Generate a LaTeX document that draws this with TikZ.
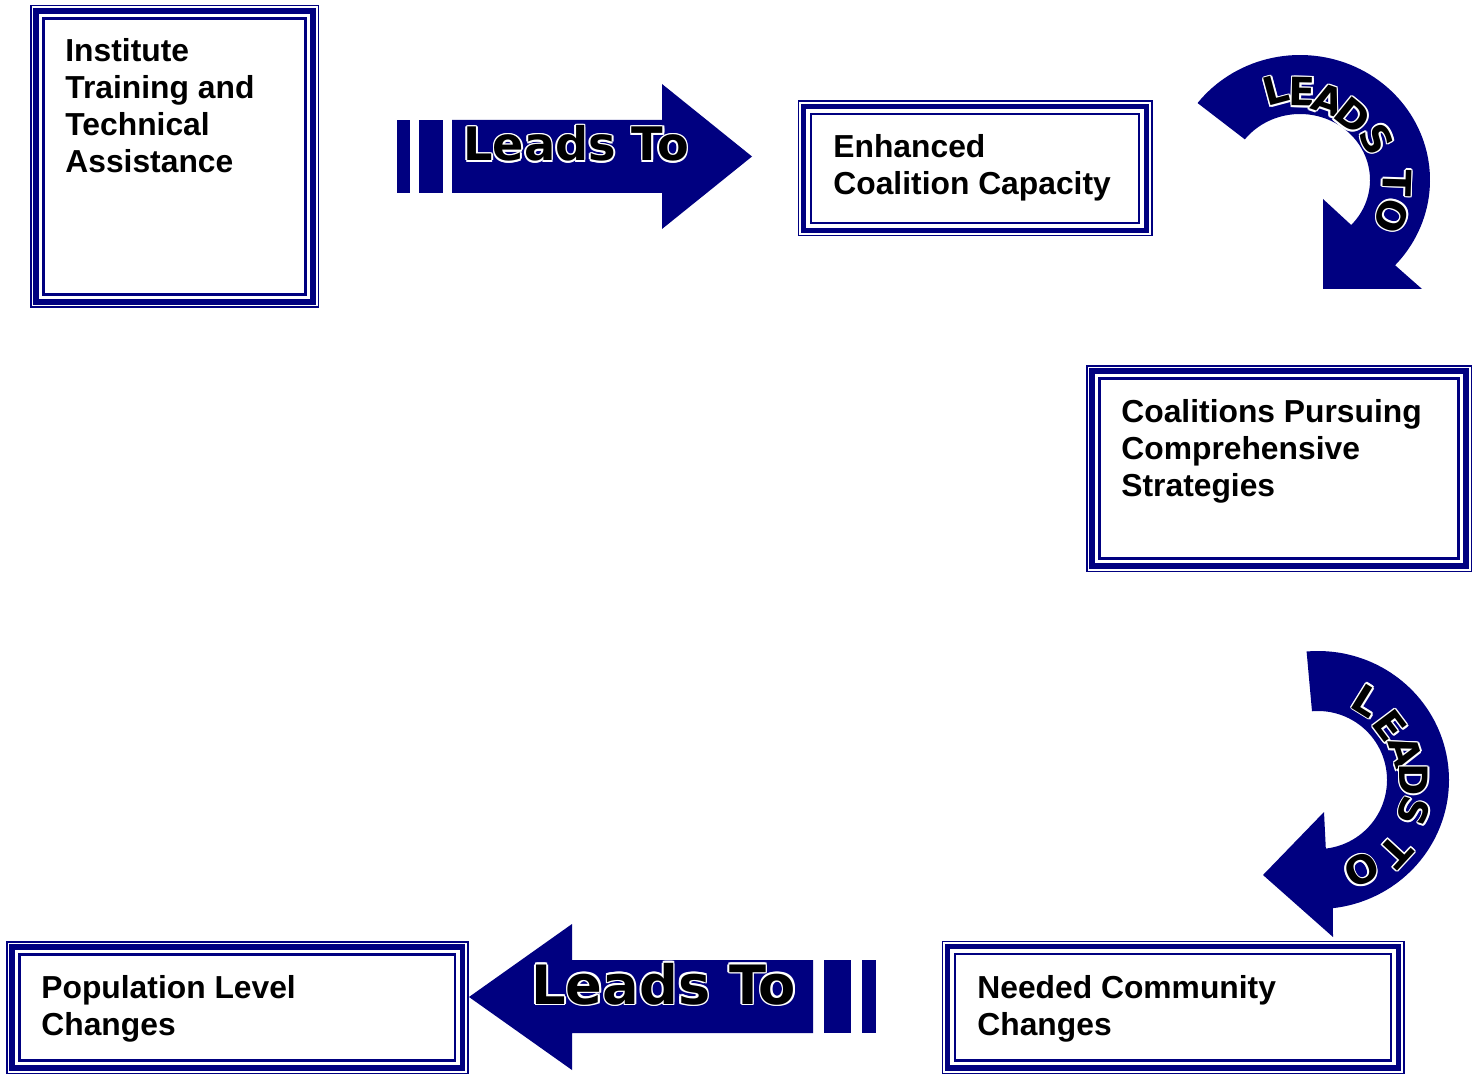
\documentclass[tikz,border=0pt]{standalone}
\usepackage{fontspec}
\setmainfont{Liberation Sans}
\newfontfamily\heavyfont{DejaVu Sans}
\definecolor{navy}{RGB}{0,0,128}

% white-rimmed lettering: eight white copies around a black one
\newbox\olbox
\newlength\olw
\setlength\olw{0.8pt}
\newcommand\outlined[1]{%
  \setbox\olbox=\hbox{#1}%
  \rlap{\color{white}\kern\olw\copy\olbox}%
  \rlap{\color{white}\kern-\olw\copy\olbox}%
  \rlap{\color{white}\raise\olw\copy\olbox}%
  \rlap{\color{white}\raise-\olw\copy\olbox}%
  \rlap{\color{white}\kern.7\olw\raise.7\olw\copy\olbox}%
  \rlap{\color{white}\kern.7\olw\raise-.7\olw\copy\olbox}%
  \rlap{\color{white}\kern-.7\olw\raise.7\olw\copy\olbox}%
  \rlap{\color{white}\kern-.7\olw\raise-.7\olw\copy\olbox}%
  {\color{black}\copy\olbox}}

% thin outer and inner frame lines around a thick-bordered box node
\newcommand\rings[1]{%
  \draw[navy, line width=0.75pt] ([shift={(-5.25,-5.25)}]#1.north west) rectangle ([shift={(5.25,5.25)}]#1.south east);
  \draw[navy, line width=1.25pt] ([shift={(7.5,7.5)}]#1.north west) rectangle ([shift={(-7.5,-7.5)}]#1.south east);}

\begin{document}
\begin{tikzpicture}[x=0.5pt, y=-0.5pt,
  ring/.style={draw=navy, line width=2.75pt, outer sep=0pt, inner sep=0pt},
  boxtext/.style={font=\fontsize{15.9pt}{18.5pt}\selectfont\bfseries, align=left, anchor=base west, inner sep=0pt},
  flow/.style={fill=navy},
  arcletter/.style={font=\heavyfont\bfseries\fontsize{19.5pt}{19.5pt}\selectfont, inner sep=0pt}
]
\useasboundingbox (0,0) rectangle (1483,1075);

% ---- boxes (text nodes are placed by the baseline of their last line) ----
\node[ring, minimum width=138.5pt, minimum height=145.5pt] (train) at (174.5,156.5) {};
\rings{train}
\node[boxtext] (trainT) at (65,173) {Institute\\Training and\\Technical\\Assistance};

\node[ring, minimum width=171.5pt, minimum height=62pt] (capacity) at (975,168.5) {};
\rings{capacity}
\node[boxtext] (capacityT) at (833,195) {Enhanced\\Coalition Capacity};

\node[ring, minimum width=187pt, minimum height=97.5pt] (pursue) at (1279,468.5) {};
\rings{pursue}
\node[boxtext] (pursueT) at (1121,496) {Coalitions Pursuing\\Comprehensive\\Strategies};

\node[ring, minimum width=225.5pt, minimum height=60.75pt] (community) at (1173,1007.25) {};
\rings{community}
\node[boxtext] (communityT) at (977,1035) {Needed Community\\Changes};

\node[ring, minimum width=225.25pt, minimum height=60.5pt] (population) at (237.25,1007.5) {};
\rings{population}
\node[boxtext] (populationT) at (41,1035) {Population Level\\Changes};

% ---- straight arrow, top ----
\fill[flow] (397,120) rectangle (410,193);
\fill[flow] (419,120) rectangle (443,193);
\fill[flow] (452,120) -- (662,120) -- (662,84) -- (752,156.5) -- (662,229) -- (662,193) -- (452,193) -- cycle;
\node[inner sep=0pt, anchor=base west, font=\heavyfont\bfseries\fontsize{23.1pt}{23.1pt}\selectfont] (lead1) at (463,161) {\outlined{Leads To}};

% ---- curved arrow, top right ----
\fill[flow] plot[domain=-142:43, samples=80] ({1300+130*cos(\x)}, {180+125*sin(\x)})
  -- (1422,289) -- (1323,289) -- (1323,199)
  -- plot[domain=43:-142, samples=80] ({1300+70*cos(\x)}, {180+66*sin(\x)}) -- cycle;
\foreach \ch/\px/\py/\rot [count=\i] in {L/1276/90/15, E/1302.5/92/-1, A/1328/100/-19, D/1353/116/-39,
    S/1377/139/-62, T/1397/183/-91.8, O/1392/216/-111.4}
  \node[arcletter, rotate=\rot] (arcA\i) at (\px,\py) {\outlined{\ch}};

% ---- curved arrow, bottom right ----
\fill[flow] plot[domain=-95:83.5, samples=80] ({1318+131*cos(\x)}, {780+129*sin(\x)})
  -- (1333,937) -- (1263,875) -- (1324,812)
  -- plot[domain=83.5:-95, samples=80] ({1318+69*cos(\x)}, {780+69*sin(\x)}) -- cycle;
\foreach \ch/\px/\py/\rot [count=\i] in {L/1367/700.7/-31.7, E/1390/726/-53.1, A/1405.7/751.7/-72.1, D/1414/780/-90,
    S/1414/811.7/-108.3, T/1395.7/851.7/-132.7, O/1361.7/870/-154}
  \node[arcletter, rotate=\rot] (arcB\i) at (\px,\py) {\outlined{\ch}};

% ---- straight arrow, bottom ----
\fill[flow] (469,997) -- (572,924) -- (572,960) -- (813,960) -- (813,1033) -- (572,1033) -- (572,1070) -- cycle;
\fill[flow] (824,960) rectangle (851,1033);
\fill[flow] (862,960) rectangle (876,1033);
\node[inner sep=0pt, anchor=base west, font=\heavyfont\bfseries\fontsize{27.1pt}{27.1pt}\selectfont] (lead2) at (531,1004) {\outlined{Leads To}};
\end{tikzpicture}
\end{document}
